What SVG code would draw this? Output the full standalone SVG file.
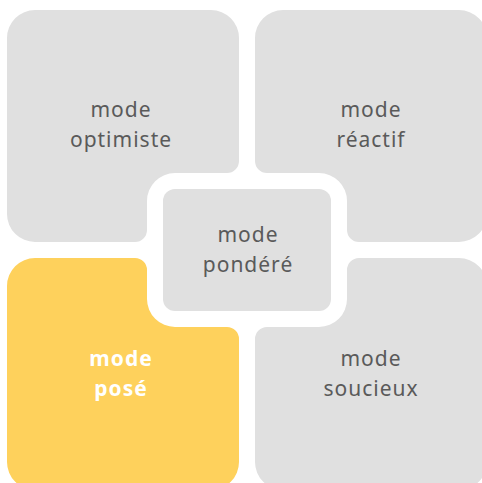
<svg xmlns="http://www.w3.org/2000/svg" width="482" height="483" viewBox="0 0 482 483">
  <defs>
    <path id="quad" d="M 35 10 H 211 A 28 28 0 0 1 239 38 V 161 A 12 12 0 0 1 227 173 H 175 A 28 28 0 0 0 147 201 V 230 A 12 12 0 0 1 135 242 H 35 A 28 28 0 0 1 7 214 V 38 A 28 28 0 0 1 35 10 Z"/>
  </defs>
  <style>
    .gray { fill: #e0e0e0; }
    .yellow { fill: #fed15c; }
    .lbl { font-family: "Noto Sans", "DejaVu Sans", sans-serif; font-size: 21px; letter-spacing: 1px; fill: #5a5a5a; text-anchor: middle; }
    .lbl-hi { font-family: "Noto Sans", "DejaVu Sans", sans-serif; font-size: 21px; letter-spacing: 1px; font-weight: bold; fill: #ffffff; text-anchor: middle; }
  </style>
  <rect width="482" height="483" fill="#ffffff"/>
  <g id="optimiste">
    <use href="#quad" class="gray"/>
    <text class="lbl" x="121" y="117">mode</text>
    <text class="lbl" x="121" y="147">optimiste</text>
  </g>
  <g id="reactif">
    <use href="#quad" class="gray" transform="matrix(-1 0 0 1 494 0)"/>
    <text class="lbl" x="371" y="117">mode</text>
    <text class="lbl" x="371" y="147">réactif</text>
  </g>
  <g id="pose">
    <use href="#quad" class="yellow" transform="matrix(1 0 0 -1 0 500)"/>
    <text class="lbl-hi" x="121" y="366">mode</text>
    <text class="lbl-hi" x="121" y="396">posé</text>
  </g>
  <g id="soucieux">
    <use href="#quad" class="gray" transform="matrix(-1 0 0 -1 494 500)"/>
    <text class="lbl" x="371" y="366">mode</text>
    <text class="lbl" x="371" y="396">soucieux</text>
  </g>
  <g id="pondere">
    <rect class="gray" x="163" y="189" width="168" height="122" rx="12"/>
    <text class="lbl" x="248" y="242">mode</text>
    <text class="lbl" x="248" y="272">pondéré</text>
  </g>
  <g id="connectors"/>
</svg>
